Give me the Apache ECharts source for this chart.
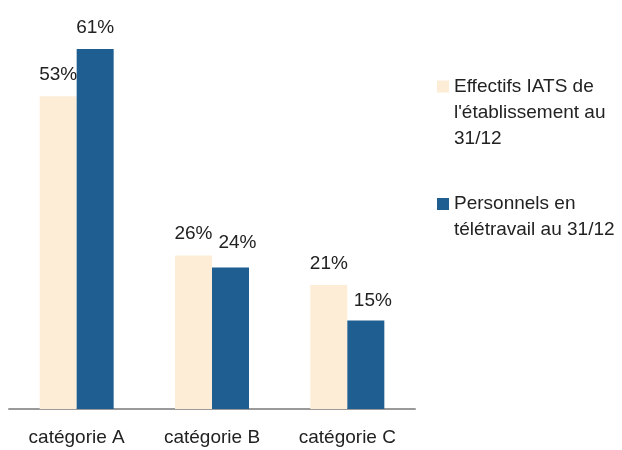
<!DOCTYPE html>
<html>
<head>
<meta charset="utf-8">
<script src="https://cdn.jsdelivr.net/npm/echarts@6/dist/echarts.min.js"></script>
<style>
  html, body { margin: 0; padding: 0; background: #ffffff; }
  #chart { width: 622px; height: 450px; }
</style>
</head>
<body>
<div id="chart"></div>
<script>
// Répartition par catégorie (en %)
const categories = ['catégorie A', 'catégorie B', 'catégorie C'];
const seriesNames = ["Effectifs IATS de\nl'établissement au\n31/12", 'Personnels en\ntélétravail au 31/12'];
const effectifs = [53, 26, 21];
const teletravail = [61, 24, 15];

const FONT = '"Liberation Sans", Arial, sans-serif';
const TEXT = '#222222';
const BEIGE = '#FDEDD7';
const BLUE = '#1F5E90';

// nudges for the blue labels that would otherwise crowd the beige ones
const blueLabelOffsets = [[0, 0], [7, -3], [7, 2]];

const chart = echarts.init(document.getElementById('chart'), null, { renderer: 'canvas' });

const labelBase = {
  show: true,
  position: 'top',
  distance: 12,
  fontFamily: FONT,
  fontSize: 19,
  color: TEXT,
  formatter: p => p.value + '%'
};

// legend text is vertically centred on its square; leading blank lines
// move the square up to the first line of each entry
function legendBlock(name, top) {
  const lines = name.split('\n').length;
  return {
    data: [name],
    orient: 'vertical',
    left: 437,
    top: top,
    padding: 0,
    itemWidth: 12,
    itemHeight: 12,
    icon: 'rect',
    formatter: n => '\n'.repeat(lines - 1) + n,
    textStyle: { fontFamily: FONT, fontSize: 19, color: TEXT, lineHeight: 26 }
  };
}

chart.setOption({
  animation: false,
  backgroundColor: '#ffffff',
  grid: { left: 9, right: 207, top: 25.5, bottom: 41, containLabel: false },
  xAxis: {
    type: 'category',
    data: categories,
    axisLine: { show: true, lineStyle: { color: '#9a9a9a', width: 2 } },
    axisTick: { show: false },
    axisLabel: { fontFamily: FONT, fontSize: 19, color: TEXT, margin: 19 }
  },
  yAxis: {
    type: 'value',
    min: 0,
    max: 65,
    show: false,
    splitLine: { show: false }
  },
  legend: [
    legendBlock(seriesNames[0], 21.5),
    legendBlock(seriesNames[1], 165)
  ],
  series: [
    {
      name: seriesNames[0],
      type: 'bar',
      data: effectifs,
      barWidth: 37,
      barGap: '0%',
      itemStyle: { color: BEIGE },
      label: labelBase
    },
    {
      name: seriesNames[1],
      type: 'bar',
      data: teletravail.map((v, i) => ({ value: v, label: { offset: blueLabelOffsets[i] } })),
      barWidth: 37,
      barGap: '0%',
      itemStyle: { color: BLUE },
      label: labelBase
    }
  ]
});
</script>
</body>
</html>
